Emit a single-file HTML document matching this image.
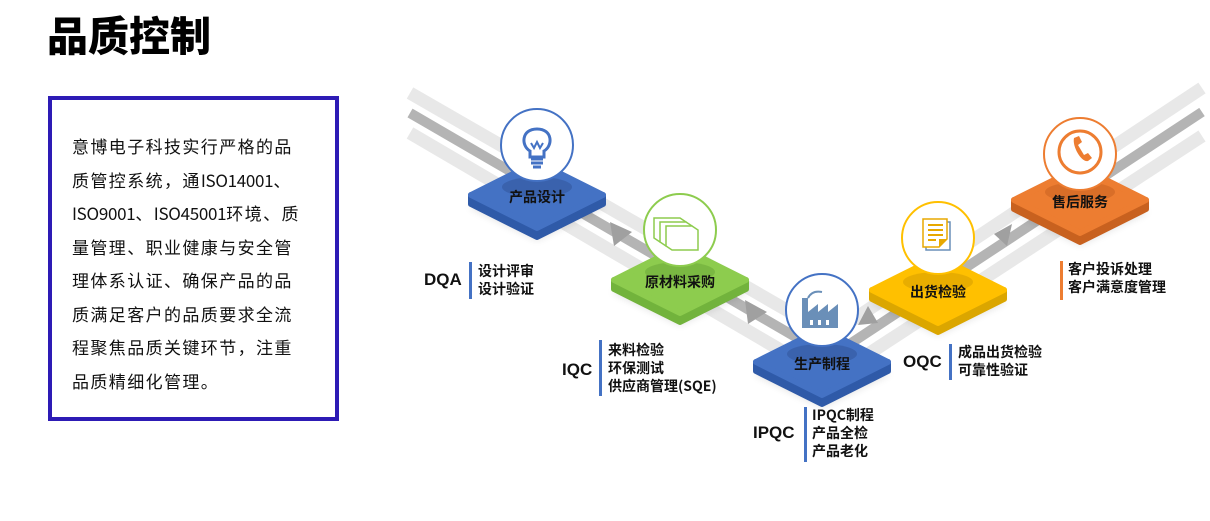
<!DOCTYPE html>
<html><head><meta charset="utf-8"><style>
body{margin:0;width:1210px;height:521px;background:#fff;position:relative;overflow:hidden;font-family:"Liberation Sans","Noto Sans CJK SC",sans-serif}
h1{position:absolute;left:47px;top:8px;margin:0;font-size:41px;font-weight:900;line-height:50px;color:#000;font-family:"Noto Sans CJK SC",sans-serif}
.box{position:absolute;left:48px;top:96px;width:283px;height:317px;border:4px solid #2d1bb5}
.box p{position:absolute;left:20px;top:29px;margin:0;width:280px;white-space:nowrap;font-size:17px;letter-spacing:1.4px;line-height:33.5px;color:#111;font-family:"Noto Sans CJK SC",sans-serif}
.box p span{letter-spacing:-0.3px}
svg{position:absolute;left:0;top:0}
</style></head><body>
<h1>品质控制</h1>
<div class="box"><p>意博电子科技实行严格的品<br>质管控系统，通<span>ISO14001</span>、<br><span>ISO9001</span>、<span>ISO45001</span>环境、质<br>量管理、职业健康与安全管<br>理体系认证、确保产品的品<br>质满足客户的品质要求全流<br>程聚焦品质关键环节，注重<br>品质精细化管理。</p></div>
<svg width="1210" height="521" font-family="Noto Sans CJK SC, sans-serif">
<defs>
<filter id="sh" x="-30%" y="-30%" width="160%" height="160%"><feGaussianBlur stdDeviation="4"/></filter>
</defs>
<g fill="none" stroke-linejoin="miter">
<polyline points="410,93 830,335 1202,88" stroke="#e8e8e8" stroke-width="13"/>
<polyline points="410,113 830,357 1202,112" stroke="#b4b4b4" stroke-width="10"/>
<polyline points="410,133 830,379 1202,136" stroke="#e8e8e8" stroke-width="13"/>
</g>
<g fill="#a0a0a0">
<polygon points="610,222 632,232 614,246"/>
<polygon points="745,300 767,312 748,324"/>
<polygon points="858,325 868,306 878,323"/>
<polygon points="994,234 1012,224 1007,246"/>
</g>
<g transform="translate(537,195)">
<polygon points="0,-33 68,0 0,33 -68,0" fill="#000" opacity=".12" filter="url(#sh)" transform="translate(0,12)"/>
<polygon points="-66,0 -66,9 0,42 66,9 66,0 0,33" fill="#2f5aa8" stroke="#2f5aa8" stroke-width="6" stroke-linejoin="round"/>
<polygon points="0,-33 66,0 0,33 -66,0" fill="#4472c4" stroke="#4472c4" stroke-width="6" stroke-linejoin="round"/>
<ellipse cx="0" cy="-8" rx="35" ry="10" fill="#3a62ad"/>
<circle cx="0" cy="-50" r="36" fill="#fff" stroke="#4472c4" stroke-width="2"/>
<path d="M-7,-38 L-7,-44 C-16,-49 -16,-66 0,-66 C16,-66 16,-49 7,-44 L7,-38 Z M-6,-36 h12 M-6,-32 h12 M-4,-28 h8" fill="none" stroke="#4472c4" stroke-width="3"/>
<path d="M-6,-52 l3,5 3,-6 3,6 3,-5" fill="none" stroke="#4472c4" stroke-width="2"/>
<text x="0" y="7" text-anchor="middle" font-size="14" font-weight="700" fill="#111">产品设计</text>
</g>
<g transform="translate(680,280)">
<polygon points="0,-33 68,0 0,33 -68,0" fill="#000" opacity=".12" filter="url(#sh)" transform="translate(0,12)"/>
<polygon points="-66,0 -66,9 0,42 66,9 66,0 0,33" fill="#72b33c" stroke="#72b33c" stroke-width="6" stroke-linejoin="round"/>
<polygon points="0,-33 66,0 0,33 -66,0" fill="#8dcc4e" stroke="#8dcc4e" stroke-width="6" stroke-linejoin="round"/>
<ellipse cx="0" cy="-8" rx="35" ry="10" fill="#7ab842"/>
<circle cx="0" cy="-50" r="36" fill="#fff" stroke="#8dcc4e" stroke-width="2"/>
<g fill="#fff" stroke="#8dcc4e" stroke-width="1.5"><path d="M-26,-62 h26 l6,4 v20 h-26 l-6,-4 z"/><path d="M-20,-58 h26 l6,4 v20 h-26 l-6,-4 z"/><path d="M-14,-54 h26 l6,4 v20 h-26 l-6,-4 z"/></g>
<text x="0" y="7" text-anchor="middle" font-size="14" font-weight="700" fill="#111">原材料采购</text>
</g>
<g transform="translate(822,362)">
<polygon points="0,-33 68,0 0,33 -68,0" fill="#000" opacity=".12" filter="url(#sh)" transform="translate(0,12)"/>
<polygon points="-66,0 -66,9 0,42 66,9 66,0 0,33" fill="#2f5aa8" stroke="#2f5aa8" stroke-width="6" stroke-linejoin="round"/>
<polygon points="0,-33 66,0 0,33 -66,0" fill="#4472c4" stroke="#4472c4" stroke-width="6" stroke-linejoin="round"/>
<ellipse cx="0" cy="-8" rx="35" ry="10" fill="#3a62ad"/>
<circle cx="0" cy="-52" r="36" fill="#fff" stroke="#4472c4" stroke-width="2"/>
<path d="M-20,-34 v-30 h6 v14 l10,-8 v8 l10,-8 v8 l10,-8 v24 z" fill="#6a8fb8"/>
<path d="M-14,-64 q4,-8 14,-6" fill="none" stroke="#6a8fb8" stroke-width="2"/>
<g fill="#fff"><rect x="-12" y="-42" width="3" height="5"/><rect x="-4" y="-42" width="3" height="5"/><rect x="4" y="-42" width="3" height="5"/></g>
<text x="0" y="7" text-anchor="middle" font-size="14" font-weight="700" fill="#111">生产制程</text>
</g>
<g transform="translate(938,290)">
<polygon points="0,-33 68,0 0,33 -68,0" fill="#000" opacity=".12" filter="url(#sh)" transform="translate(0,12)"/>
<polygon points="-66,0 -66,9 0,42 66,9 66,0 0,33" fill="#dba600" stroke="#dba600" stroke-width="6" stroke-linejoin="round"/>
<polygon points="0,-33 66,0 0,33 -66,0" fill="#ffc000" stroke="#ffc000" stroke-width="6" stroke-linejoin="round"/>
<ellipse cx="0" cy="-8" rx="35" ry="10" fill="#e8ad00"/>
<circle cx="0" cy="-52" r="36" fill="#fff" stroke="#ffc000" stroke-width="2"/>
<path d="M-12,-68 h24 v28 h-24 z" fill="#fff" stroke="#6a8fb8" stroke-width="1.5"/>
<path d="M-15,-71 h24 v20 l-8,8 h-16 z" fill="#fff" stroke="#e8a800" stroke-width="1.5"/>
<path d="M9,-51 l-8,8 v-8 z" fill="#e8a800"/>
<g stroke="#e8a800" stroke-width="2"><path d="M-10,-65 h15 M-10,-60 h15 M-10,-55 h15 M-10,-50 h8"/></g>
<text x="0" y="7" text-anchor="middle" font-size="14" font-weight="700" fill="#111">出货检验</text>
</g>
<g transform="translate(1080,200)">
<polygon points="0,-33 68,0 0,33 -68,0" fill="#000" opacity=".12" filter="url(#sh)" transform="translate(0,12)"/>
<polygon points="-66,0 -66,9 0,42 66,9 66,0 0,33" fill="#c8611f" stroke="#c8611f" stroke-width="6" stroke-linejoin="round"/>
<polygon points="0,-33 66,0 0,33 -66,0" fill="#ed7d31" stroke="#ed7d31" stroke-width="6" stroke-linejoin="round"/>
<ellipse cx="0" cy="-8" rx="35" ry="10" fill="#d96e28"/>
<circle cx="0" cy="-46" r="36" fill="#fff" stroke="#ed7d31" stroke-width="2"/>
<circle cx="0" cy="-48" r="21" fill="none" stroke="#ed7d31" stroke-width="3"/>
<path d="M-6,-62 l5,-2 3,6 -4,3 6,10 4,-2 4,5 -4,3 c-6,2 -16,-14 -14,-23z" fill="#ed7d31"/>
<text x="0" y="7" text-anchor="middle" font-size="14" font-weight="700" fill="#111">售后服务</text>
</g>
<g font-weight="700" fill="#111">
<text x="424" y="285" font-size="17" font-family="Liberation Sans, sans-serif">DQA</text>
<rect x="469" y="262" width="3" height="37" fill="#4472c4"/>
<text x="478" y="276" font-size="14">设计评审</text>
<text x="478" y="294" font-size="14">设计验证</text>
<text x="562" y="375" font-size="17" font-family="Liberation Sans, sans-serif">IQC</text>
<rect x="599" y="340" width="3" height="56" fill="#4472c4"/>
<text x="608" y="355" font-size="14">来料检验</text>
<text x="608" y="373" font-size="14">环保测试</text>
<text x="608" y="391" font-size="14">供应商管理(SQE)</text>
<text x="753" y="438" font-size="17" font-family="Liberation Sans, sans-serif">IPQC</text>
<rect x="804" y="407" width="3" height="55" fill="#4472c4"/>
<text x="812" y="420" font-size="14">IPQC制程</text>
<text x="812" y="438" font-size="14">产品全检</text>
<text x="812" y="456" font-size="14">产品老化</text>
<text x="903" y="367" font-size="17" font-family="Liberation Sans, sans-serif">OQC</text>
<rect x="949" y="344" width="3" height="36" fill="#4472c4"/>
<text x="958" y="357" font-size="14">成品出货检验</text>
<text x="958" y="375" font-size="14">可靠性验证</text>
<rect x="1060" y="261" width="3" height="39" fill="#ed7d31"/>
<text x="1068" y="274" font-size="14">客户投诉处理</text>
<text x="1068" y="292" font-size="14">客户满意度管理</text>
</g>
</svg>
</body></html>
